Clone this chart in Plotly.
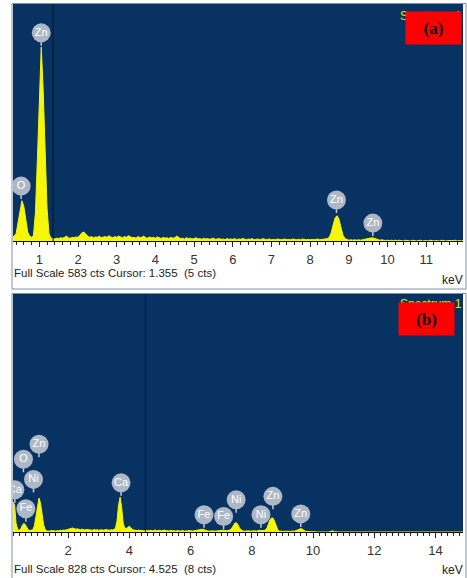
import plotly.graph_objects as go

W, H = 467, 578

# ---------------- EDS spectrum (a): ZnO ----------------
CH_WIDTH = 0.05          # keV per channel
E0_A = 0.30              # energy of first channel shown
FULL_SCALE_A = 583
CURSOR_A = 1.355
CURSOR_CTS_A = 5
counts_a = [
    10, 12, 18, 45, 80, 99, 85, 50, 22, 12, 9, 14, 70, 200, 350, 477, 370, 215, 80, 18,   # 0.30-1.25
    7, 6, 5, 7, 6, 8, 7, 9, 12, 8, 7, 9, 8, 10, 9, 14, 20, 22, 16, 12,                    # 1.30-2.25
    9, 11, 8, 10, 9, 12, 8, 10, 11, 9, 13, 10, 8, 11, 9, 12, 10, 8, 11, 9,                # 2.30-3.25
    13, 10, 8, 9, 7, 11, 8, 9, 12, 8, 7, 10, 8, 9, 7, 10, 8, 6, 9, 7,                     # 3.30-4.25
    8, 6, 9, 7, 8, 12, 9, 6, 7, 5, 8, 6, 7, 5, 6, 8, 5, 6, 4, 7,                          # 4.30-5.25
    5, 6, 4, 5, 7, 4, 5, 6, 4, 5, 3, 6, 4, 5, 4, 6, 3, 5, 4, 6,                           # 5.30-6.25
    5, 3, 5, 4, 6, 3, 4, 5, 3, 4, 6, 3, 4, 5, 3, 4, 3, 5, 4, 3,                           # 6.30-7.25
    4, 5, 3, 4, 3, 5, 4, 3, 4, 3, 5, 4, 3, 4, 3, 4, 3, 4, 5, 3,                           # 7.30-8.25
    4, 5, 6, 6, 10, 22, 42, 58, 62, 52, 32, 14, 6, 3, 2, 3, 2, 3, 2, 3,                   # 8.30-9.25
    2, 3, 4, 5, 6, 8, 8, 7, 5, 3, 2, 3, 2, 1, 2, 1, 2, 1, 2, 1,                           # 9.30-10.25
    2, 1, 0, 2, 1, 1, 0, 2, 1, 0, 1, 2, 0, 1, 1, 0, 2, 1, 0, 1,                           # 10.30-11.25
    1, 0, 2, 1, 0, 1, 1, 0, 1, 2, 0, 1, 0, 1,                                             # 11.30-11.95
]
tag_el_a = ["O", "Zn", "Zn", "Zn"]
tag_kev_a = [0.53, 1.05, 8.68, 9.62]
tag_cts_a = [135, 512, 101, 44]

# ---------------- EDS spectrum (b): doped sample ----------------
E0_B = 0.20
FULL_SCALE_B = 828
CURSOR_B = 4.525
CURSOR_CTS_B = 8
counts_b = [
    105, 95, 30, 10, 6, 10, 22, 30, 26, 14, 7, 5, 6, 8, 22, 55, 95, 118, 100, 60,         # 0.20-1.15
    25, 9, 4, 3, 4, 3, 5, 4, 3, 5, 4, 6, 5, 7, 6, 8, 9, 11, 13, 14,                       # 1.20-2.15
    12, 10, 11, 9, 8, 10, 8, 7, 9, 8, 7, 8, 6, 9, 7, 8, 6, 7, 8, 6,                       # 2.20-3.15
    7, 9, 7, 6, 8, 7, 9, 14, 40, 95, 121, 85, 30, 14, 12, 16, 20, 15, 9, 7,               # 3.20-4.15
    6, 5, 7, 5, 6, 4, 5, 6, 4, 5, 6, 4, 5, 7, 4, 5, 6, 4, 5, 7,                           # 4.20-5.15
    4, 5, 3, 6, 4, 5, 3, 4, 5, 3, 4, 5, 3, 4, 3, 4, 5, 3, 4, 3,                           # 5.20-6.15
    4, 5, 6, 8, 10, 8, 5, 4, 3, 4, 3, 4, 3, 4, 3, 4, 5, 6, 5, 4,                          # 6.20-7.15
    5, 6, 8, 14, 24, 31, 32, 25, 13, 7, 4, 3, 4, 3, 4, 3, 4, 3, 4, 3,                     # 7.20-8.15
    5, 6, 5, 4, 5, 8, 15, 30, 44, 49, 48, 36, 18, 7, 3, 2, 3, 2, 3, 2,                    # 8.20-9.15
    3, 2, 3, 2, 3, 5, 8, 11, 12, 10, 6, 3, 2, 1, 2, 1, 1, 0, 1, 0,                        # 9.20-10.15
    0, 1, 0, 0, 1, 0, 0, 1, 2, 4, 1, 0, 1, 0, 0, 0, 0, 1, 0, 0,                           # 10.20-11.15
    0, 0, 1, 0, 0, 0, 0, 0, 1, 0, 0, 0, 0, 0, 0, 1, 0, 0, 0, 0,                           # 11.20-12.15
    0, 0, 0, 1, 0, 0, 0, 0, 0, 0, 0, 0, 0, 0, 1, 0, 0, 0, 0, 0,                           # 12.20-13.15
    0, 0, 0, 0, 0, 0, 1, 0, 0, 0, 0, 0, 0, 0, 0, 0, 0, 0, 0, 0,                           # 13.20-14.15
    0, 0, 0, 0, 0, 0, 0, 0, 0, 0, 0, 0, 0, 0, 0,                                          # 14.20-14.90
]
tag_el_b = ["Ca", "O", "Zn", "Ni", "Fe", "Ca", "Fe", "Fe", "Ni", "Ni", "Zn", "Zn"]
tag_kev_b = [0.26, 0.54, 1.05, 0.87, 0.62, 3.73, 6.44, 7.08, 7.49, 8.30, 8.69, 9.60]
tag_cts_b = [147, 253, 305, 183, 81, 171, 60, 54, 112, 60, 124, 63]

# ---------------- styling ----------------
BG = "#083262"
YELLOW = "#f6f60a"
TAG = "#aeb7c6"
STEM = "#c3cad6"
FONT = "Liberation Sans, Arial"


def px_x(p):
    return p / W


def px_y(p):
    return 1 - p / H


panels = [
    dict(e0=E0_A, counts=counts_a, fs=FULL_SCALE_A, cur=CURSOR_A, cur_cts=CURSOR_CTS_A,
         el=tag_el_a, kev=tag_kev_a, cts=tag_cts_a, xr=[0.32, 11.95], dtick=1,
         top=4, base=241, frame=(3.5, 289), tick_txt=273, kev_txt=280, spec_top=7,
         label="(a)", box=(433.8, 27.7), xa="x", ya="y"),
    dict(e0=E0_B, counts=counts_b, fs=FULL_SCALE_B, cur=CURSOR_B, cur_cts=CURSOR_CTS_B,
         el=tag_el_b, kev=tag_kev_b, cts=tag_cts_b, xr=[0.20, 14.9], dtick=2,
         top=294, base=532, frame=(293.5, 580), tick_txt=569, kev_txt=570, spec_top=295,
         label="(b)", box=(426.7, 318.8), xa="x2", ya="y2"),
]

fig = go.Figure()
shapes = []
annotations = []
STEM_PX = 13

for i, p in enumerate(panels):
    energies = [round(p["e0"] + k * CH_WIDTH, 3) for k in range(len(p["counts"]))]
    fig.add_trace(go.Scatter(
        x=energies, y=p["counts"], mode="lines", fill="tozeroy",
        line=dict(color=YELLOW, width=1), fillcolor=YELLOW,
        xaxis=p["xa"], yaxis=p["ya"], hoverinfo="skip", showlegend=False))

    # element marker stems and bubbles
    stem_cts = STEM_PX * p["fs"] / (p["base"] - p["top"])
    sx, sy = [], []
    for k, c in zip(p["kev"], p["cts"]):
        sx += [k, k, None]
        sy += [c, c - stem_cts, None]
    fig.add_trace(go.Scatter(
        x=sx, y=sy, mode="lines", line=dict(color=STEM, width=1.5),
        xaxis=p["xa"], yaxis=p["ya"], hoverinfo="skip", showlegend=False))
    fig.add_trace(go.Scatter(
        x=p["kev"], y=p["cts"], mode="markers+text", text=p["el"],
        textposition="middle center",
        textfont=dict(color="white", size=11, family="Liberation Sans, Arial"),
        marker=dict(size=19, color=TAG, line=dict(width=0)),
        xaxis=p["xa"], yaxis=p["ya"], hoverinfo="skip", showlegend=False))

    sfx = "" if i == 0 else "2"
    fig.layout["xaxis" + sfx] = dict(
        domain=[px_x(13), px_x(463)], range=p["xr"], anchor=p["ya"],
        tickmode="linear", tick0=0, dtick=p["dtick"], ticks="outside", ticklen=5,
        tickcolor="#222", tickwidth=1, showline=True, linecolor="#111", linewidth=1,
        showgrid=False, zeroline=False, ticklabelstandoff=1,
        tickfont=dict(family=FONT, size=13, color="#333"),
        minor=dict(tick0=0, dtick=0.2, ticks="outside", ticklen=3, tickcolor="#222",
                   tickwidth=1, showgrid=False),
    )
    fig.layout["yaxis" + sfx] = dict(
        domain=[px_y(p["base"]), px_y(p["top"])], range=[0, p["fs"]], anchor=p["xa"],
        showticklabels=False, showgrid=False, zeroline=False, showline=False, ticks="",
    )

    # cursor
    shapes.append(dict(type="line", xref=p["xa"], yref=p["ya"] + " domain",
                       x0=p["cur"], x1=p["cur"], y0=0, y1=1,
                       line=dict(color="#0b1420", width=1), layer="above"))
    # panel frame
    shapes.append(dict(type="rect", xref="paper", yref="paper",
                       x0=px_x(12), x1=px_x(466), y0=px_y(p["frame"][1]), y1=px_y(p["frame"][0]),
                       line=dict(color="#7d91b0", width=1), layer="below"))

    annotations.append(dict(
        xref="paper", yref="paper", x=px_x(12), y=px_y(p["tick_txt"]),
        xanchor="left", yanchor="middle", showarrow=False,
        text=f"Full Scale {p['fs']} cts Cursor: {p['cur']:.3f} \u00a0({p['cur_cts']} cts)",
        font=dict(family=FONT, size=11.5, color="#222")))
    annotations.append(dict(
        xref="paper", yref="paper", x=px_x(465), y=px_y(p["kev_txt"]),
        xanchor="right", yanchor="middle", showarrow=False, text="keV",
        font=dict(family=FONT, size=12, color="#222")))
    annotations.append(dict(
        xref="paper", yref="paper", x=px_x(464), y=px_y(p["spec_top"]),
        xanchor="right", yanchor="top", showarrow=False, text="Spectrum 1",
        font=dict(family=FONT, size=12, color="#e4e400")))
    annotations.append(dict(
        xref="paper", yref="paper", x=px_x(p["box"][0]), y=px_y(p["box"][1]),
        xanchor="center", yanchor="middle", showarrow=False,
        text=f"<b>{p['label']}</b>", width=55, height=32, borderpad=0,
        bgcolor="#ff0000", font=dict(family="Liberation Serif, Times New Roman", size=17,
                                     color="#111")))

fig.update_layout(
    width=W, height=H, autosize=False,
    margin=dict(l=0, r=0, t=0, b=0),
    paper_bgcolor="white", plot_bgcolor=BG,
    shapes=shapes, annotations=annotations,
)

fig.write_html("out.html")
